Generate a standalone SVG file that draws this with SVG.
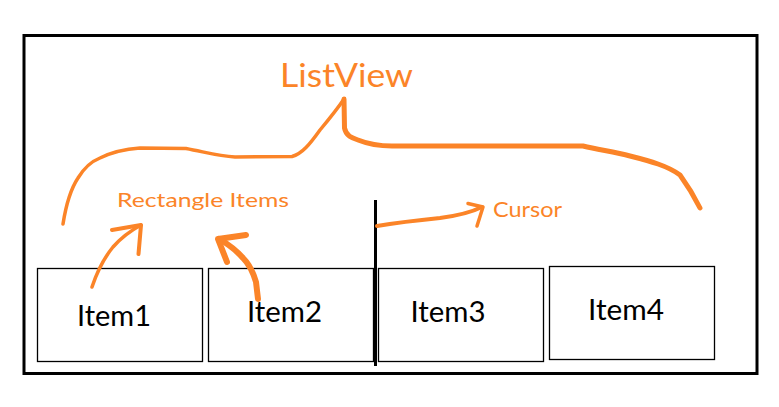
<svg xmlns="http://www.w3.org/2000/svg" width="779" height="407" viewBox="0 0 779 407">
<style>
.box{fill:#fff;stroke:#000;stroke-width:1.3}
.lbl{font-family:Lato,"Liberation Sans",sans-serif;font-size:28px;fill:#000}
.or{fill:none;stroke:#FB8428;stroke-linecap:round;stroke-linejoin:round}
.ot{font-family:Lato,"Liberation Sans",sans-serif;fill:#FB8428}
</style>
<rect x="0" y="0" width="779" height="407" fill="#fff"/>
<rect id="frame" x="24" y="35.5" width="733" height="338" fill="none" stroke="#000" stroke-width="3"/>
<g id="item1"><rect class="box" x="37.5" y="268.5" width="165" height="93"/><text class="lbl" x="77" y="326" textLength="74" lengthAdjust="spacingAndGlyphs">Item1</text></g>
<g id="item2"><rect class="box" x="208.5" y="268.5" width="165" height="93"/><text class="lbl" x="247" y="321.5" textLength="75" lengthAdjust="spacingAndGlyphs">Item2</text></g>
<g id="item3"><rect class="box" x="378.5" y="268.5" width="165" height="93"/><text class="lbl" x="410.5" y="322" textLength="75" lengthAdjust="spacingAndGlyphs">Item3</text></g>
<g id="item4"><rect class="box" x="549.5" y="266.5" width="165" height="93"/><text class="lbl" x="588" y="320" textLength="76" lengthAdjust="spacingAndGlyphs">Item4</text></g>
<g id="cursor-line"><line x1="375.5" y1="200" x2="375.5" y2="366" stroke="#000" stroke-width="3"/></g>
<g id="listview-label"><text class="ot" x="280" y="87" font-size="33" textLength="133" lengthAdjust="spacingAndGlyphs">ListView</text></g>
<g id="rect-label"><text class="ot" x="117" y="207" font-size="20" textLength="172" lengthAdjust="spacingAndGlyphs">Rectangle Items</text></g>
<g id="cursor-label"><text class="ot" x="493" y="216.5" font-size="21" textLength="69" lengthAdjust="spacingAndGlyphs">Cursor</text></g>
<g id="connectors">
<path class="or" stroke-width="3.5" d="M63,224 C66,205 70,190 78,178 C84,168 90,162 100,158 C112,152 126,149 140,148 L186,148.5 C205,152 218,156 235,157 L292,156.5 C302,154 310,144 320,130 C330,118 338,108 344,99"/>
<path class="or" stroke-width="5" d="M344,99 L344.5,128 C346,136 352,138 358,140 C368,144 378,146 392,146 L583,146 C600,150 615,152 630,156 C650,161 668,166 680,175 C688,186 694,196 700,208"/>
<path class="or" stroke-width="3.5" d="M92,287 C97,272 104,258 113,247 C120,239 130,231 141,225"/>
<path class="or" stroke-width="4" d="M112,230 L141,225 L138.5,254"/>
<path class="or" stroke-width="6" d="M258,299 L256,282 C253,272 249,264 243,258 C236,250 228,244 219,239"/>
<path class="or" stroke-width="6" d="M246,235 L218,239 L227,262"/>
<path class="or" stroke-width="4" d="M377,226 C395,223 420,220 440,218 C455,216 470,213 482,207"/>
<path class="or" stroke-width="3.5" d="M468,203.5 L483,207 L477,226"/>
</g>
</svg>
